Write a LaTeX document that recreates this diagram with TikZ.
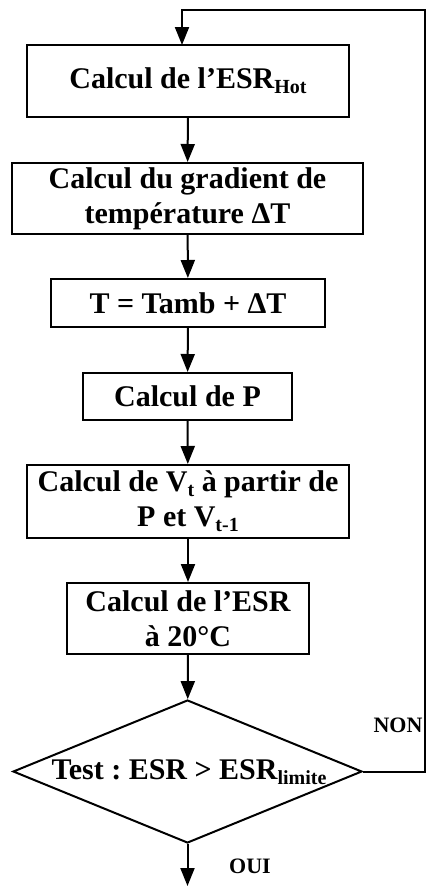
\documentclass[tikz,border=0pt]{standalone}
\usepackage{fontspec}
\setmainfont{Liberation Serif}
\usetikzlibrary{shapes.geometric,arrows.meta}
\frenchspacing
\newcommand\sbx[1]{\raisebox{-5pt}{\fontsize{20}{20}\selectfont #1}}
\tikzset{
  box/.style={draw, line width=2pt, inner sep=0pt, align=center,
    font=\bfseries\fontsize{30}{35}\selectfont},
  conn/.style={line width=2pt, -{Triangle[length=18pt,width=14pt]}},
  lbl/.style={font=\bfseries\fontsize{22}{22}\selectfont, inner sep=0pt}
}
\begin{document}
\begin{tikzpicture}[x=1pt,y=-1pt]
\useasboundingbox (0,0) rectangle (427,886);
\node[box, minimum width=322pt, minimum height=72pt] (b1) at (188,81) {Calcul de l’ESR\sbx{Hot}};
\node[box, minimum width=351pt, minimum height=71pt] (b2) at (187.5,198.5) {Calcul du gradient de\\température ΔT};
\node[box, minimum width=274pt, minimum height=48pt] (b3) at (188,303) {T = Tamb + ΔT};
\node[box, minimum width=209pt, minimum height=47pt] (b4) at (187.5,396.5) {Calcul de P};
\node[box, minimum width=322pt, minimum height=73pt] (b5) at (188,501.5) {Calcul de V\sbx{t} à partir de\\P et V\sbx{t-1}};
\node[box, minimum width=242pt, minimum height=71pt] (b6) at (188,618.5) {Calcul de l’ESR\\à 20°C};
\node[draw, diamond, line width=2pt, inner sep=0pt, minimum width=349pt, minimum height=143pt] (dia) at (187.5,771.5) {};
\node[font=\bfseries\fontsize{30}{35}\selectfont, inner sep=0pt] (test) at (189,772) {Test : ESR > ESR\sbx{limite}};
\node[lbl] (non) at (398,725) {NON};
\node[lbl] (oui) at (250,866) {OUI};
\coordinate (rb) at (425,771.5);
\coordinate (rt) at (425,10);
\coordinate (lt) at (182,10);
\coordinate (in1) at (182,45);
\coordinate (endb) at (187.5,886);
\draw[conn] (b1) -- (b2);
\draw[conn] (b2) -- (b3);
\draw[conn] (b3) -- (b4);
\draw[conn] (b4) -- (b5);
\draw[conn] (b5) -- (b6);
\draw[conn] (b6) -- (dia);
\draw[conn] (dia.south) -- (endb);
\draw[conn] (dia.east) -- (rb) -- (rt) -- (lt) -- (in1);
\end{tikzpicture}
\end{document}
